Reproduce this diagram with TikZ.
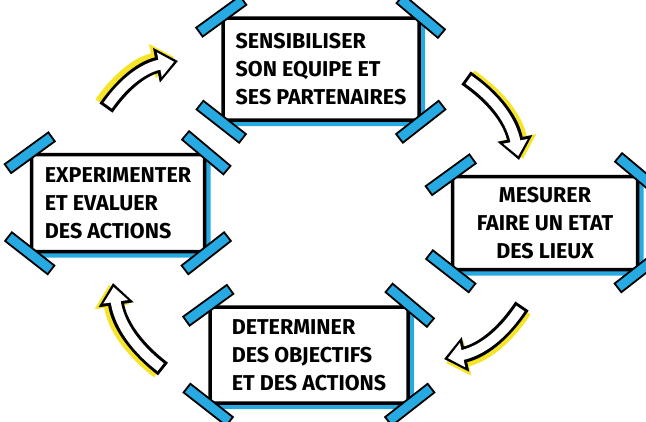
\documentclass[tikz,border=0pt]{standalone}
\usepackage{fontspec}
\setmainfont{Fira Sans}
\usetikzlibrary{arrows.meta,shadows}
\definecolor{markerblue}{RGB}{38,170,225}
\definecolor{markeryellow}{RGB}{245,228,40}
\tikzstyle{card} = [rectangle, draw, line width=3.5pt, rounded corners=3pt, fill=white,
    font=\fontsize{21.5}{28}\selectfont\bfseries, align=left,
    drop shadow={shadow xshift=6pt, shadow yshift=-6pt, fill=markerblue, opacity=1}]
\tikzstyle{tape} = [rectangle, draw, line width=1.8pt, fill=markerblue,
    minimum width=54pt, minimum height=11pt, inner sep=0pt]
\tikzstyle{flowshadow} = [draw=markeryellow, line width=16pt, -{Triangle[width=34pt,length=22pt]}]
\tikzstyle{flowouter} = [draw=black, line width=16pt, -{Triangle[width=34pt,length=22pt]}]
\tikzstyle{flowinner} = [draw=white, line width=10pt, shorten <=3pt, shorten >=4pt,
    -{Triangle[width=24pt,length=15pt]}]
\newcommand{\flowarrow}[3]{%
    \draw [flowshadow, transform canvas={shift={#3}}] (#1) to[bend left=22] (#2);
    \draw [flowouter] (#1) to[bend left=22] (#2);
    \draw [flowinner] (#1) to[bend left=22] (#2);}

\begin{document}
\begin{tikzpicture}[x=1pt, y=-1pt]
    \useasboundingbox (0,0) rectangle (646,421);
    % Place nodes
    \node [card, minimum width=196pt, minimum height=102pt] (aware) at (321,69)
        {SENSIBILISER\\SON EQUIPE ET\\SES PARTENAIRES};
    \node [card, minimum width=185pt, minimum height=93pt, align=center] (measure) at (545,223)
        {MESURER\\FAIRE UN ETAT\\DES LIEUX};
    \node [card, minimum width=198pt, minimum height=96pt] (goals) at (309,355)
        {DETERMINER\\DES OBJECTIFS\\ET DES ACTIONS};
    \node [card, minimum width=173pt, minimum height=97pt] (trial) at (118,203)
        {EXPERIMENTER\\ET EVALUER\\DES ACTIONS};
    % Tape on the corners
    \foreach \n in {aware,measure,goals,trial} {
        \node [tape, rotate=36] at (\n.north west) {};
        \node [tape, rotate=-40] at (\n.north east) {};
        \node [tape, rotate=-38] at (\n.south west) {};
        \node [tape, rotate=38] at (\n.south east) {};
    }
    % Arrow ends
    \coordinate (a1s) at (106,108);
    \coordinate (a1e) at (178,61);
    \coordinate (a2s) at (466,78);
    \coordinate (a2e) at (519,160);
    \coordinate (a3s) at (522,306);
    \coordinate (a3e) at (444,359);
    \coordinate (a4s) at (163,369);
    \coordinate (a4e) at (113,283);
    % Draw edges
    \flowarrow{a1s}{a1e}{(-4pt,4pt)}
    \flowarrow{a2s}{a2e}{(4pt,1pt)}
    \flowarrow{a3s}{a3e}{(2pt,-4pt)}
    \flowarrow{a4s}{a4e}{(-4pt,-2pt)}
\end{tikzpicture}
\end{document}
